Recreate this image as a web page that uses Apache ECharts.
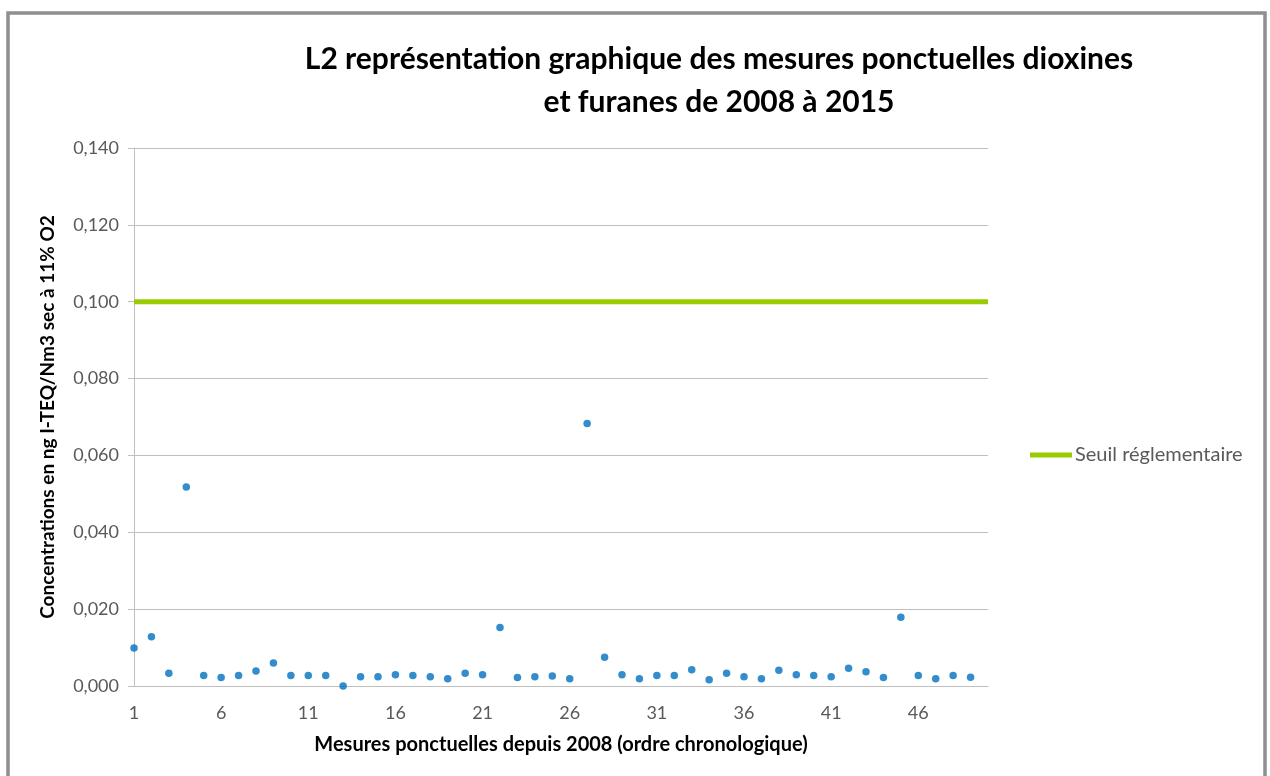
<!DOCTYPE html>
<html>
<head>
<meta charset="utf-8">
<script src="https://cdn.jsdelivr.net/npm/echarts@6/dist/echarts.min.js"></script>
<style>
  html, body { margin: 0; padding: 0; background: #fff; }
  #chart { width: 1270px; height: 776px; }
</style>
</head>
<body>
<div id="chart"></div>
<script>
/* ---------------- DATA ---------------- */

// measurement numbers (category axis runs one step past the last measure)
const CATEGORIES = [
    "1", "2", "3", "4", "5", "6", "7", "8", "9", "10",
    "11", "12", "13", "14", "15", "16", "17", "18", "19", "20",
    "21", "22", "23", "24", "25", "26", "27", "28", "29", "30",
    "31", "32", "33", "34", "35", "36", "37", "38", "39", "40",
    "41", "42", "43", "44", "45", "46", "47", "48", "49", "50",
];

// dioxines / furanes, ng I-TEQ/Nm3
const MESURES = [
    0.0099, 0.0128, 0.0033, 0.0518, 0.0027, 0.0022, 0.0027, 0.0039, 0.0060, 0.0027,
    0.0027, 0.0027, 0.0000, 0.0024, 0.0024, 0.0029, 0.0027, 0.0024, 0.0019, 0.0033,
    0.0029, 0.0152, 0.0022, 0.0024, 0.0026, 0.0019, 0.0683, 0.0075, 0.0029, 0.0019,
    0.0027, 0.0027, 0.0042, 0.0016, 0.0033, 0.0024, 0.0019, 0.0041, 0.0029, 0.0027,
    0.0024, 0.0046, 0.0037, 0.0022, 0.0179, 0.0027, 0.0019, 0.0027, 0.0023,
];

const SEUIL = 0.1;
const SEUIL_POINTS = [["1", SEUIL], ["50", SEUIL]];

const Y_MIN = 0;
const Y_MAX = 0.14;
const Y_STEP = 0.02;

/* ---------------- CHART ---------------- */

const chart = echarts.init(document.getElementById("chart"));
const GRID_COLOR = "#bfbfbf";
const TEXT_COLOR = "#595959";
const FONT = "Lato, 'Liberation Sans', sans-serif";

chart.setOption({
    animation: false,
    textStyle: { fontFamily: FONT },

    graphic: [{
        type: "rect",
        shape: { x: 8, y: 13, width: 1257, height: 800 },
        style: { fill: "none", stroke: "#8f8f8f", lineWidth: 3.5 },
        silent: true,
    }],

    title: {
        text: "L2 représentation graphique des mesures ponctuelles dioxines\net furanes de 2008 à 2015",
        left: 714,
        top: 33,
        textAlign: "center",
        textStyle: {
            fontFamily: FONT,
            fontSize: 30,
            fontWeight: "bold",
            color: "#000",
            lineHeight: 43,
        },
    },

    legend: {
        data: ["Seuil réglementaire"],
        left: 1030,
        top: 445,
        padding: 0,
        orient: "vertical",
        icon: "rect",
        itemWidth: 42,
        itemHeight: 5,
        itemGap: 4,
        textStyle: { color: TEXT_COLOR, fontSize: 20, fontFamily: FONT, padding: [0, 0, 0, -2] },
    },

    grid: { left: 134, right: 282, top: 148, bottom: 90 },

    xAxis: {
        type: "category",
        data: CATEGORIES,
        boundaryGap: false,
        name: "Mesures ponctuelles depuis 2008 (ordre chronologique)",
        nameLocation: "middle",
        nameGap: 49,
        nameTextStyle: { color: "#000", fontSize: 20, fontWeight: "bold", fontFamily: FONT },
        axisLine: { lineStyle: { color: GRID_COLOR, width: 1 } },
        axisTick: { show: false },
        axisLabel: { interval: 4, color: TEXT_COLOR, fontSize: 18, margin: 18 },
        splitLine: { show: false },
    },

    yAxis: {
        type: "value",
        min: Y_MIN,
        max: Y_MAX,
        interval: Y_STEP,
        name: "Concentrations en ng I-TEQ/Nm3 sec à 11% O2",
        nameLocation: "middle",
        nameGap: 77,
        nameTextStyle: { color: "#000", fontSize: 19, fontWeight: "bold", fontFamily: FONT },
        axisLine: { show: true, lineStyle: { color: GRID_COLOR, width: 1 } },
        axisTick: { show: true, length: 6, lineStyle: { color: GRID_COLOR } },
        axisLabel: {
            color: TEXT_COLOR,
            fontSize: 18,
            margin: 15,
            formatter: (v) => v.toFixed(3).replace(".", ","),
        },
        splitLine: { lineStyle: { color: GRID_COLOR, width: 1 } },
    },

    series: [
        {
            name: "Mesures",
            type: "scatter",
            data: MESURES,
            symbol: "circle",
            symbolSize: 7.5,
            itemStyle: { color: "#0070C0" },
        },
        {
            name: "Seuil réglementaire",
            type: "line",
            data: SEUIL_POINTS,
            showSymbol: false,
            symbol: "none",
            lineStyle: { color: "#99CC00", width: 5 },
            itemStyle: { color: "#99CC00" },
            z: 1,
        },
    ],
});
</script>
</body>
</html>
